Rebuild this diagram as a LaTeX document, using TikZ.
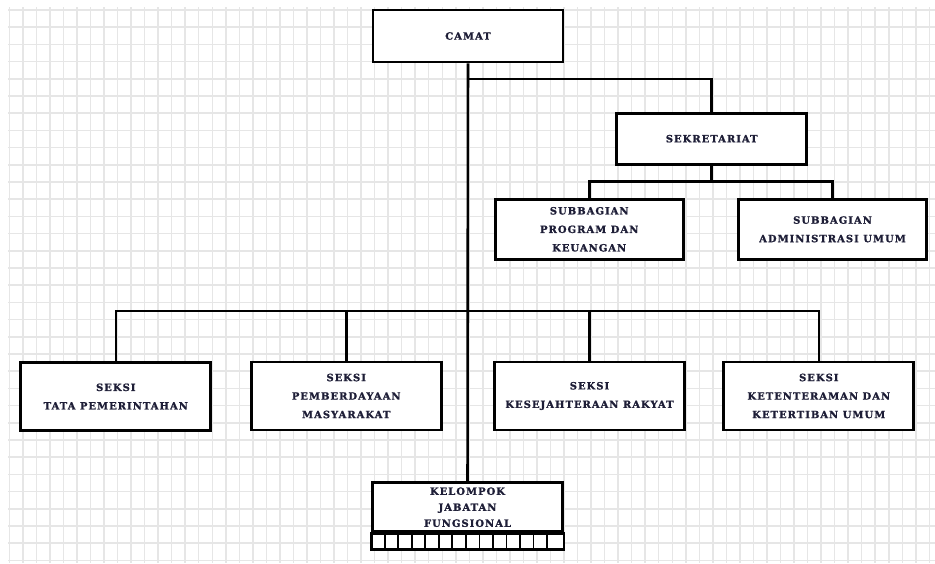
\documentclass[tikz,border=0pt]{standalone}
\usepackage{fontspec}
\usetikzlibrary{positioning,calc}
\newfontfamily\orgfont{DejaVu Serif Bold}[LetterSpace=10, FakeBold=1.2]
\definecolor{inktext}{RGB}{30,30,55}
\definecolor{gridgray}{RGB}{230,230,230}
\tikzset{>=latex}
\tikzset{orgbox/.style={draw=black, line width=2.8pt, fill=white, minimum width=190pt, text=inktext, align=center, font=\orgfont\fontsize{10}{18.5}\selectfont, inner sep=0pt}}
\tikzset{link/.style={line width=2.6pt, black}}
\tikzset{gridline/.style={gridgray, line width=1.5pt}}

\begin{document}
\begin{tikzpicture}[x=1pt, y=-1pt]
    \useasboundingbox (0,0) rectangle (935,563);

    % Grid paper
    \foreach \i in {0,...,68}
        \draw[gridline] (9.3+\i*13.53,7) -- (9.3+\i*13.53,563);
    \foreach \j in {0,...,32}
        \draw[gridline] (8,10+\j*17.2) -- (935,10+\j*17.2);

    % Boxes
    \node[orgbox, minimum height=52pt] (camat) at (468,36) {CAMAT};
    \node[orgbox, minimum height=51pt] (sekretariat) at (711.7,138.7) {SEKRETARIAT};
    \node[orgbox, minimum width=188pt, minimum height=60pt] (subprogram) at (589.2,229.3) {SUBBAGIAN\\PROGRAM DAN\\KEUANGAN};
    \node[orgbox, minimum width=188pt, minimum height=60pt] (subumum) at (832.5,229.3) {SUBBAGIAN\\ADMINISTRASI UMUM};
    \node[orgbox, minimum height=68pt] (tapem) at (115.8,396.5) {SEKSI\\TATA PEMERINTAHAN};
    \node[orgbox, minimum height=68pt] (pmd) at (346.2,396) {SEKSI\\PEMBERDAYAAN\\MASYARAKAT};
    \node[orgbox, minimum height=68pt] (kesra) at (589.5,396) {SEKSI\\KESEJAHTERAAN RAKYAT};
    \node[orgbox, minimum height=68pt] (trantib) at (818.8,396) {SEKSI\\KETENTERAMAN DAN\\KETERTIBAN UMUM};
    \node[orgbox, minimum height=49pt, font=\orgfont\fontsize{10}{16}\selectfont] (jafung) at (467.5,507.2) {KELOMPOK\\JABATAN\\FUNGSIONAL};

    % Strip under the functional group
    \draw[orgbox] (jafung.south west) rectangle ($(jafung.south east)+(0,16.6)$);
    \foreach \k in {1,...,13}
        \draw[line width=1.8pt] ($(jafung.south west)+(\k*13.54,0)$) -- ++(0,16.6);

    % Bus points
    \coordinate (sekbus) at (camat.south |- 0,79);
    \coordinate (subbus) at (sekretariat.south |- 0,181.5);
    \coordinate (seksibus) at (camat.south |- 0,311);

    % Connectors
    \draw[link] (camat) -- (jafung);
    \draw[link] (sekbus) -| (sekretariat);
    \draw[link] (sekretariat) -- (subbus);
    \draw[link] (subprogram) |- (subbus) -| (subumum);
    \draw[link] (tapem) |- (seksibus) -| (trantib);
    \draw[link] (pmd) -- (pmd |- seksibus);
    \draw[link] (kesra) -- (kesra |- seksibus);
\end{tikzpicture}
\end{document}
